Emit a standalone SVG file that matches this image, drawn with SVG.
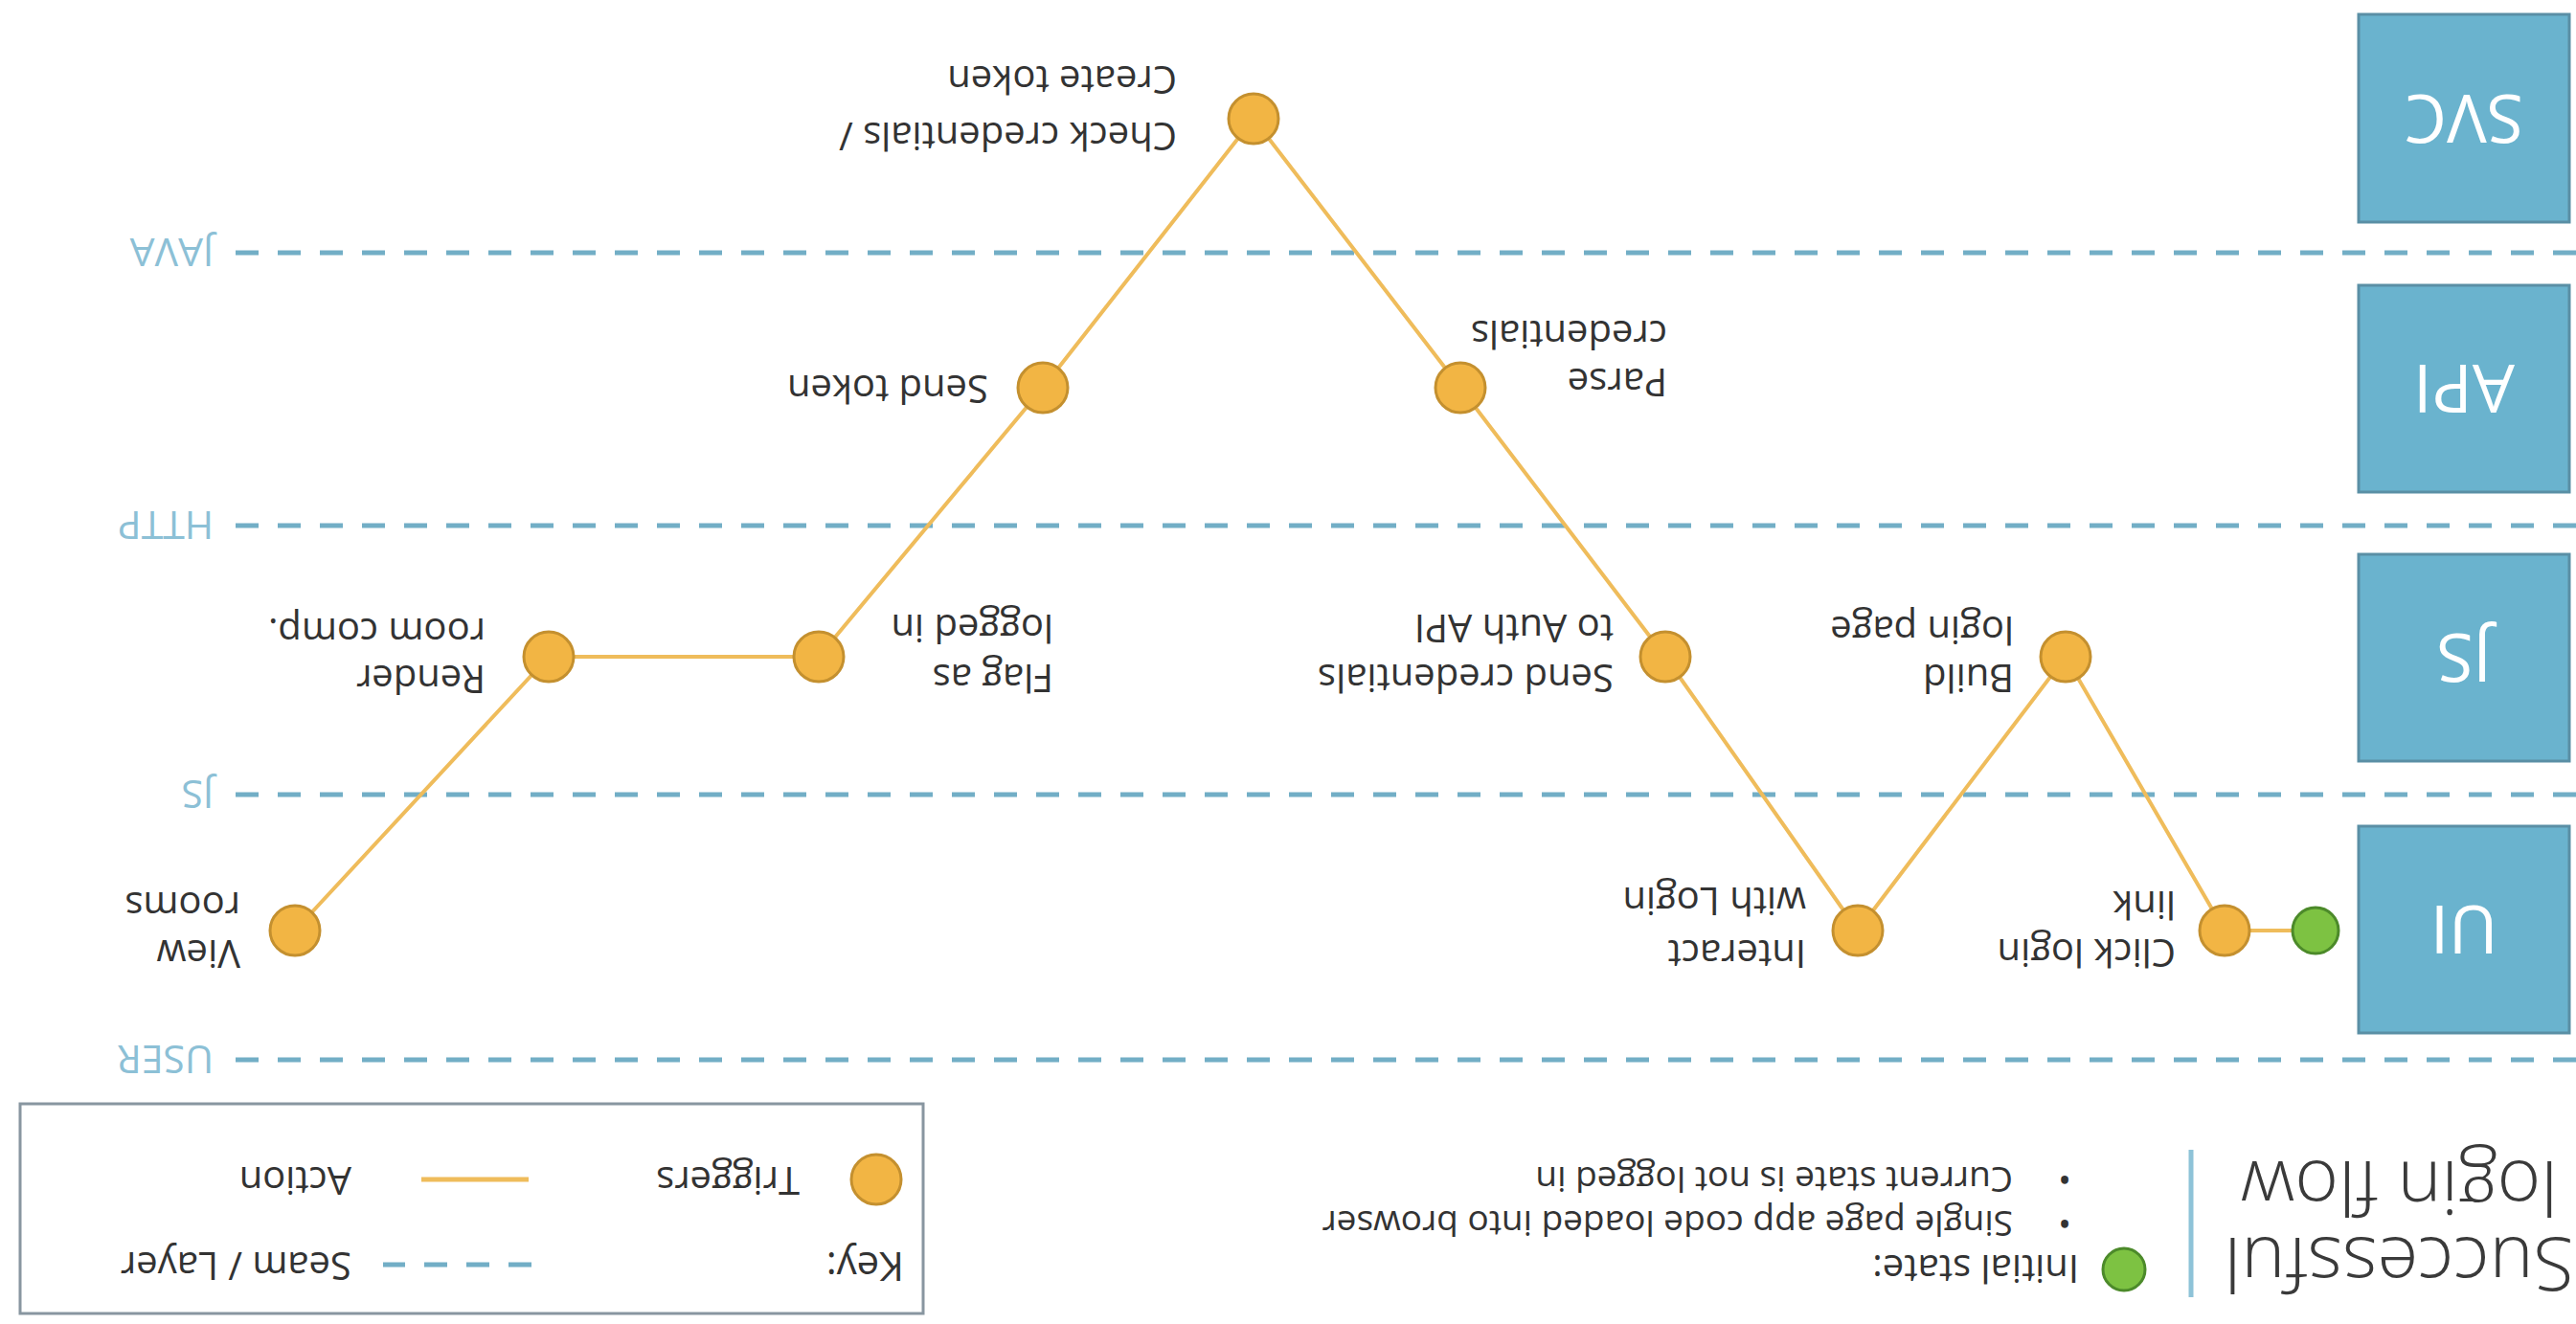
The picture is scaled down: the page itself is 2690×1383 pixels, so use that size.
<svg xmlns="http://www.w3.org/2000/svg" width="2690" height="1383" viewBox="0 0 2690 1383">
<style>
.lbl{font-family:"Open Sans","Liberation Sans",sans-serif;font-size:40px;fill:#333}
.note{font-family:"Open Sans","Liberation Sans",sans-serif;font-size:37px;fill:#333}
.title{font-family:"Open Sans","Liberation Sans",sans-serif;font-size:78px;font-weight:300;fill:#3a3a3a}
.seam{fill:none;stroke:#72AEC6;stroke-width:5;stroke-dasharray:24 20}
.seamlbl{font-family:"Open Sans","Liberation Sans",sans-serif;font-size:41px;fill:#8CC0D6}
.box{fill:#6AB3CE;stroke:#5A8FA5;stroke-width:3}
.boxlbl{font-family:"Open Sans","Liberation Sans",sans-serif;font-size:70px;fill:#fff;text-anchor:middle}
.node{fill:#F2B544;stroke:#C4902F;stroke-width:3}
.start{fill:#7DC242;stroke:#4C8A2A;stroke-width:3}
.conn{fill:none;stroke:#EFBC5B;stroke-width:4}
</style>
<rect width="2690" height="1383" fill="#fff"/>
<g transform="rotate(180 1345 691.5)">
  <g id="header">
    <text class="title" x="2" y="90">Successful</text>
    <text class="title" x="19" y="170">login flow</text>
    <line x1="402" y1="28" x2="402" y2="182" stroke="#8EC3D8" stroke-width="5"/>
    <circle class="start" cx="472" cy="57" r="22"/>
    <text class="lbl" x="519" y="72">Initial state:</text>
    <text class="note" x="527" y="118">•</text>
    <text class="note" x="588" y="118">Single page app code loaded into browser</text>
    <text class="note" x="527" y="164">•</text>
    <text class="note" x="588" y="164">Current state is not logged in</text>
  </g>
  <g id="key">
    <rect x="1726" y="11" width="943" height="219" fill="#fff" stroke="#8896A0" stroke-width="3"/>
    <text class="lbl" x="1746" y="75" style="font-size:42px">Key:</text>
    <line class="seam" x1="2135" y1="62" x2="2290" y2="62"/>
    <text class="lbl" x="2323" y="75">Seam / Layer</text>
    <circle class="node" cx="1775" cy="151" r="26"/>
    <text class="lbl" x="1855" y="164">Triggers</text>
    <line class="conn" x1="2138" y1="151" x2="2250" y2="151" style="stroke-width:5"/>
    <text class="lbl" x="2323" y="164">Action</text>
  </g>
  <g id="seams">
    <line class="seam" x1="0" y1="276" x2="2445" y2="276"/>
    <text class="seamlbl" x="2467" y="291">USER</text>
    <line class="seam" x1="0" y1="553" x2="2445" y2="553"/>
    <text class="seamlbl" x="2467" y="568">JS</text>
    <line class="seam" x1="0" y1="834" x2="2445" y2="834"/>
    <text class="seamlbl" x="2467" y="849">HTTP</text>
    <line class="seam" x1="0" y1="1119" x2="2445" y2="1119"/>
    <text class="seamlbl" x="2467" y="1134">JAVA</text>
  </g>
  <g id="layer-ui"><rect class="box" x="7" y="304" width="220" height="216"/><text class="boxlbl" x="117" y="437">UI</text></g>
  <g id="layer-js"><rect class="box" x="7" y="588" width="220" height="216"/><text class="boxlbl" x="117" y="721">JS</text></g>
  <g id="layer-api"><rect class="box" x="7" y="869" width="220" height="216"/><text class="boxlbl" x="117" y="1002">API</text></g>
  <g id="layer-svc"><rect class="box" x="7" y="1151" width="220" height="217"/><text class="boxlbl" x="117" y="1284">SVC</text></g>
  <g id="connectors">
    <polyline class="conn" points="272,411 367,411 533,697 750,411 951,697 1165,978 1381,1259 1601,978 1835,697 2117,697 2382,411"/>
  </g>
  <g id="n-initial"><circle class="start" cx="272" cy="411" r="24"/></g>
  <g id="n-click"><circle class="node" cx="367" cy="411" r="26"/>
    <text class="lbl" x="418" y="402">Click login</text><text class="lbl" x="418" y="452">link</text></g>
  <g id="n-build"><circle class="node" cx="533" cy="697" r="26"/>
    <text class="lbl" x="587" y="689">Build</text><text class="lbl" x="587" y="739">login page</text></g>
  <g id="n-interact"><circle class="node" cx="750" cy="411" r="26"/>
    <text class="lbl" x="804" y="401">Interact</text><text class="lbl" x="804" y="456">with Login</text></g>
  <g id="n-sendcreds"><circle class="node" cx="951" cy="697" r="26"/>
    <text class="lbl" x="1005" y="689">Send credentials</text><text class="lbl" x="1005" y="741">to Auth API</text></g>
  <g id="n-parse"><circle class="node" cx="1165" cy="978" r="26"/>
    <text class="lbl" x="949" y="998">Parse</text><text class="lbl" x="949" y="1048">credentials</text></g>
  <g id="n-check"><circle class="node" cx="1381" cy="1259" r="26"/>
    <text class="lbl" x="1461" y="1255">Check credentials /</text><text class="lbl" x="1461" y="1314">Create token</text></g>
  <g id="n-sendtoken"><circle class="node" cx="1601" cy="978" r="26"/>
    <text class="lbl" x="1658" y="991">Send token</text></g>
  <g id="n-flag"><circle class="node" cx="1835" cy="697" r="26"/>
    <text class="lbl" x="1590" y="689">Flag as</text><text class="lbl" x="1590" y="741">logged in</text></g>
  <g id="n-render"><circle class="node" cx="2117" cy="697" r="26"/>
    <text class="lbl" x="2183" y="688">Render</text><text class="lbl" x="2183" y="737">room comp.</text></g>
  <g id="n-view"><circle class="node" cx="2382" cy="411" r="26"/>
    <text class="lbl" x="2439" y="401">View</text><text class="lbl" x="2439" y="451">rooms</text></g>
</g>
</svg>
